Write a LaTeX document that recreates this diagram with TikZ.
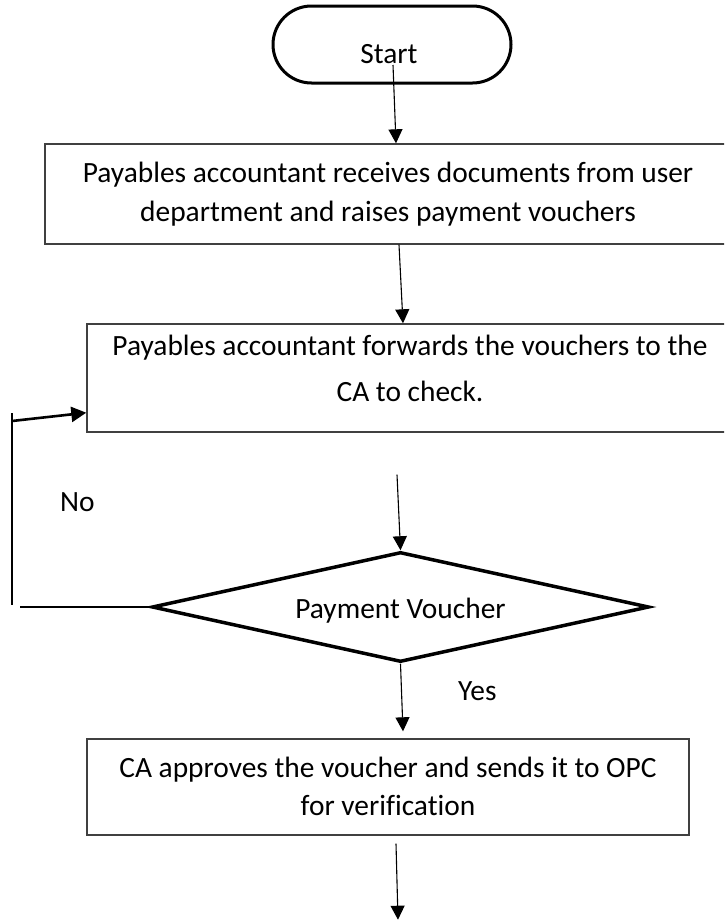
\documentclass[tikz,border=0pt]{standalone}
\usepackage{fontspec}
\setmainfont{Carlito}[Ligatures=NoCommon]
\usetikzlibrary{arrows.meta,shapes.geometric,shapes.misc,calc}

% two centred lines whose reference point is the first baseline
\newcommand\twolines[2]{\begin{tabular}[t]{@{}c@{}}#1\\#2\end{tabular}}

\begin{document}
\begin{tikzpicture}[x=1pt,y=-1pt,
  txt/.style={font=\fontsize{29.4}{39}\selectfont},
  procbox/.style={draw=black!75, line width=1.4pt, rectangle, inner sep=0pt,
                  text height=20pt},
  flow/.style={line width=1.1pt, -{Triangle[width=14pt,length=14pt]}},
  loopline/.style={line width=2.6pt},
]
\useasboundingbox (0,0) rectangle (724,921);
\clip (0,0) rectangle (724,921);

% terminal
\node[draw, line width=3pt, rounded rectangle, minimum width=238pt,
      minimum height=77pt, inner sep=0pt, text height=37pt, text depth=0pt, txt]
      (start) at (392,44.5) {\hspace{-6pt}Start};

% process boxes
\node[procbox, minimum width=686pt, minimum height=100pt, text depth=44pt,
      font=\fontsize{29.4}{39}\selectfont] (b1) at (388,194)
      {\twolines{Payables accountant receives documents from user}{department and raises payment vouchers}};

\node[procbox, minimum width=646pt, minimum height=108pt, text depth=66pt,
      font=\fontsize{29.4}{46}\selectfont] (b2) at (410,378)
      {\twolines{Payables accountant forwards the vouchers to the}{CA to check.}};

% decision
\node[draw, diamond, line width=3.5pt, shape aspect=4.5, minimum width=497pt,
      minimum height=110pt, inner sep=0pt, text height=22pt, text depth=0pt, txt]
      (dec) at (400.5,607) {Payment Voucher};

\node[procbox, minimum width=602pt, minimum height=96pt, text depth=40pt,
      font=\fontsize{29.4}{38}\selectfont] (b3) at (388,787)
      {\twolines{CA approves the voucher and sends it to OPC}{for verification}};

% branch labels
\node[txt, anchor=base west, inner sep=0pt] (no) at (60,511) {No};
\node[txt, anchor=base west, inner sep=0pt] (yes) at (458,700) {Yes};

% main flow
\coordinate (a1s) at ($(start.center)+(1,20.5)$);
\draw[flow] (a1s) -- ([xshift=8pt]b1.north);
\draw[flow] ([xshift=11pt]b1.south) -- ([xshift=-7pt]b2.north);
\coordinate (a3s) at ($(b2.south)+(-13,42)$);
\draw[flow] (a3s) -- (dec.north);
\coordinate (a4e) at ($(b3.north)+(15,-7)$);
\draw[flow] (dec.south) -- (a4e);
\coordinate (a5s) at ($(b3.south)+(8,8)$);
\coordinate (a5e) at ($(b3.south)+(10,84)$);
\draw[flow] (a5s) -- (a5e);

% "No" return path
\coordinate (fbtop) at (12,413);
\coordinate (fbbot) at (12,605);
\coordinate (fbh) at (20,607);
\draw[loopline] (fbtop) -- (fbbot);
\draw[loopline, -{Triangle[width=15pt,length=15pt]}]
     ($(fbtop)+(0,8)$) -- ($(b2.south west)+(0,-20)$);
\draw[loopline] (fbh) -- (dec.west);
\end{tikzpicture}
\end{document}
